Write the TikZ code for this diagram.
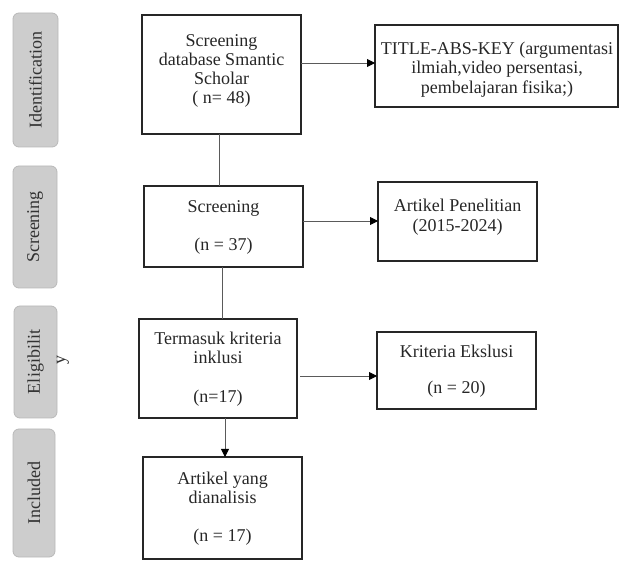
\documentclass[tikz,border=0pt]{standalone}
\usepackage{fontspec}
\setmainfont{Liberation Serif}
\usetikzlibrary{arrows.meta}
\definecolor{tabfill}{RGB}{205,205,205}
\definecolor{tabdraw}{RGB}{185,185,185}
\definecolor{tabtext}{RGB}{50,50,50}
\definecolor{conn}{RGB}{90,90,90}
\begin{document}
\begin{tikzpicture}[x=1pt,y=-1pt,
  box/.style={draw=black!85, line width=1.3pt, inner sep=0pt, outer sep=0pt},
  txt/.style={align=center, inner sep=0pt, anchor=north, text=black!85,
    font=\fontsize{18}{19}\selectfont},
  tab/.style={rotate=90, fill=tabfill, draw=tabdraw, line width=0.8pt,
    rounded corners=6pt, inner sep=0pt, text=tabtext,
    font=\fontsize{18}{19}\selectfont},
  line/.style={draw=conn, line width=0.9pt},
  arr/.style={line, -{Triangle[length=8pt,width=8pt,color=black]}}
]
\useasboundingbox (0,0) rectangle (619,561);

% phase tabs
\node[tab, minimum width=134pt, minimum height=45pt] (tab1) at (35.5,80) {Identification};
\node[tab, minimum width=122pt, minimum height=44pt] (tab2) at (35,227) {Screening};
\node[tab, minimum width=112pt, minimum height=43pt] (tab3) at (35.5,362) {Eligibilit};
\node[rotate=90, inner sep=0pt, text=tabtext, font=\fontsize{18}{19}\selectfont] (tab3y) at (63,360) {y};
\node[tab, minimum width=128pt, minimum height=42pt] (tab4) at (34,493) {Included};

% boxes
\node[box, minimum width=159pt, minimum height=119pt] (b1) at (221.5,74.5) {};
\node[box, minimum width=243pt, minimum height=82pt] (b2) at (496.5,66) {};
\node[box, minimum width=159pt, minimum height=81pt] (b3) at (223.5,226.5) {};
\node[box, minimum width=159pt, minimum height=79pt] (b4) at (457.5,221.5) {};
\node[box, minimum width=158pt, minimum height=99pt] (b5) at (218,368.5) {};
\node[box, minimum width=159pt, minimum height=77pt] (b6) at (456.5,370.5) {};
\node[box, minimum width=159pt, minimum height=102pt] (b7) at (222.5,508) {};

% texts
\node[txt] (t1) at (221.5,33) {\rule{0pt}{13pt}Screening\\database Smantic\\Scholar\\( n= 48)};
\node[txt, font=\fontsize{18}{19.5}\selectfont] (t2) at (497,41) {\rule{0pt}{13pt}TITLE-ABS-KEY (argumentasi\\ilmiah,video persentasi,\\pembelajaran fisika;)};
\node[txt] (t3) at (223.5,199) {\rule{0pt}{13pt}Screening\\[19pt](n = 37)};
\node[txt, font=\fontsize{18}{20}\selectfont] (t4) at (457.5,198) {\rule{0pt}{13pt}Artikel Penelitian\\(2015-2024)};
\node[txt, font=\fontsize{18}{19.7}\selectfont] (t5) at (218,331) {\rule{0pt}{13pt}Termasuk kriteria\\inklusi\\[19pt](n=17)};
\node[txt, font=\fontsize{18}{18}\selectfont] (t6) at (456.5,344) {\rule{0pt}{13pt}Kriteria Ekslusi\\[18pt](n = 20)};
\node[txt] (t7) at (222.5,471) {\rule{0pt}{13pt}Artikel yang\\dianalisis\\[19pt](n = 17)};

% connectors
\draw[arr] ([yshift=11.5pt]b1.east) -- ([yshift=11.5pt]b1.east -| b2.west);
\draw[arr] ([yshift=5.5pt]b3.east) -- ([yshift=5.5pt]b3.east -| b4.west);
\draw[arr] ([yshift=-7.5pt,xshift=3pt]b5.east) -- ([yshift=-7.5pt]b5.east -| b6.west);
\draw[line] ([xshift=-2pt]b1.south) -- ([xshift=-2pt]b1.south |- b3.north);
\draw[line] ([xshift=-1.5pt]b3.south) -- ([xshift=-1.5pt]b3.south |- b5.north);
\draw[arr] ([xshift=2.5pt]b7.north |- b5.south) -- ([xshift=2.5pt]b7.north);
\end{tikzpicture}
\end{document}
